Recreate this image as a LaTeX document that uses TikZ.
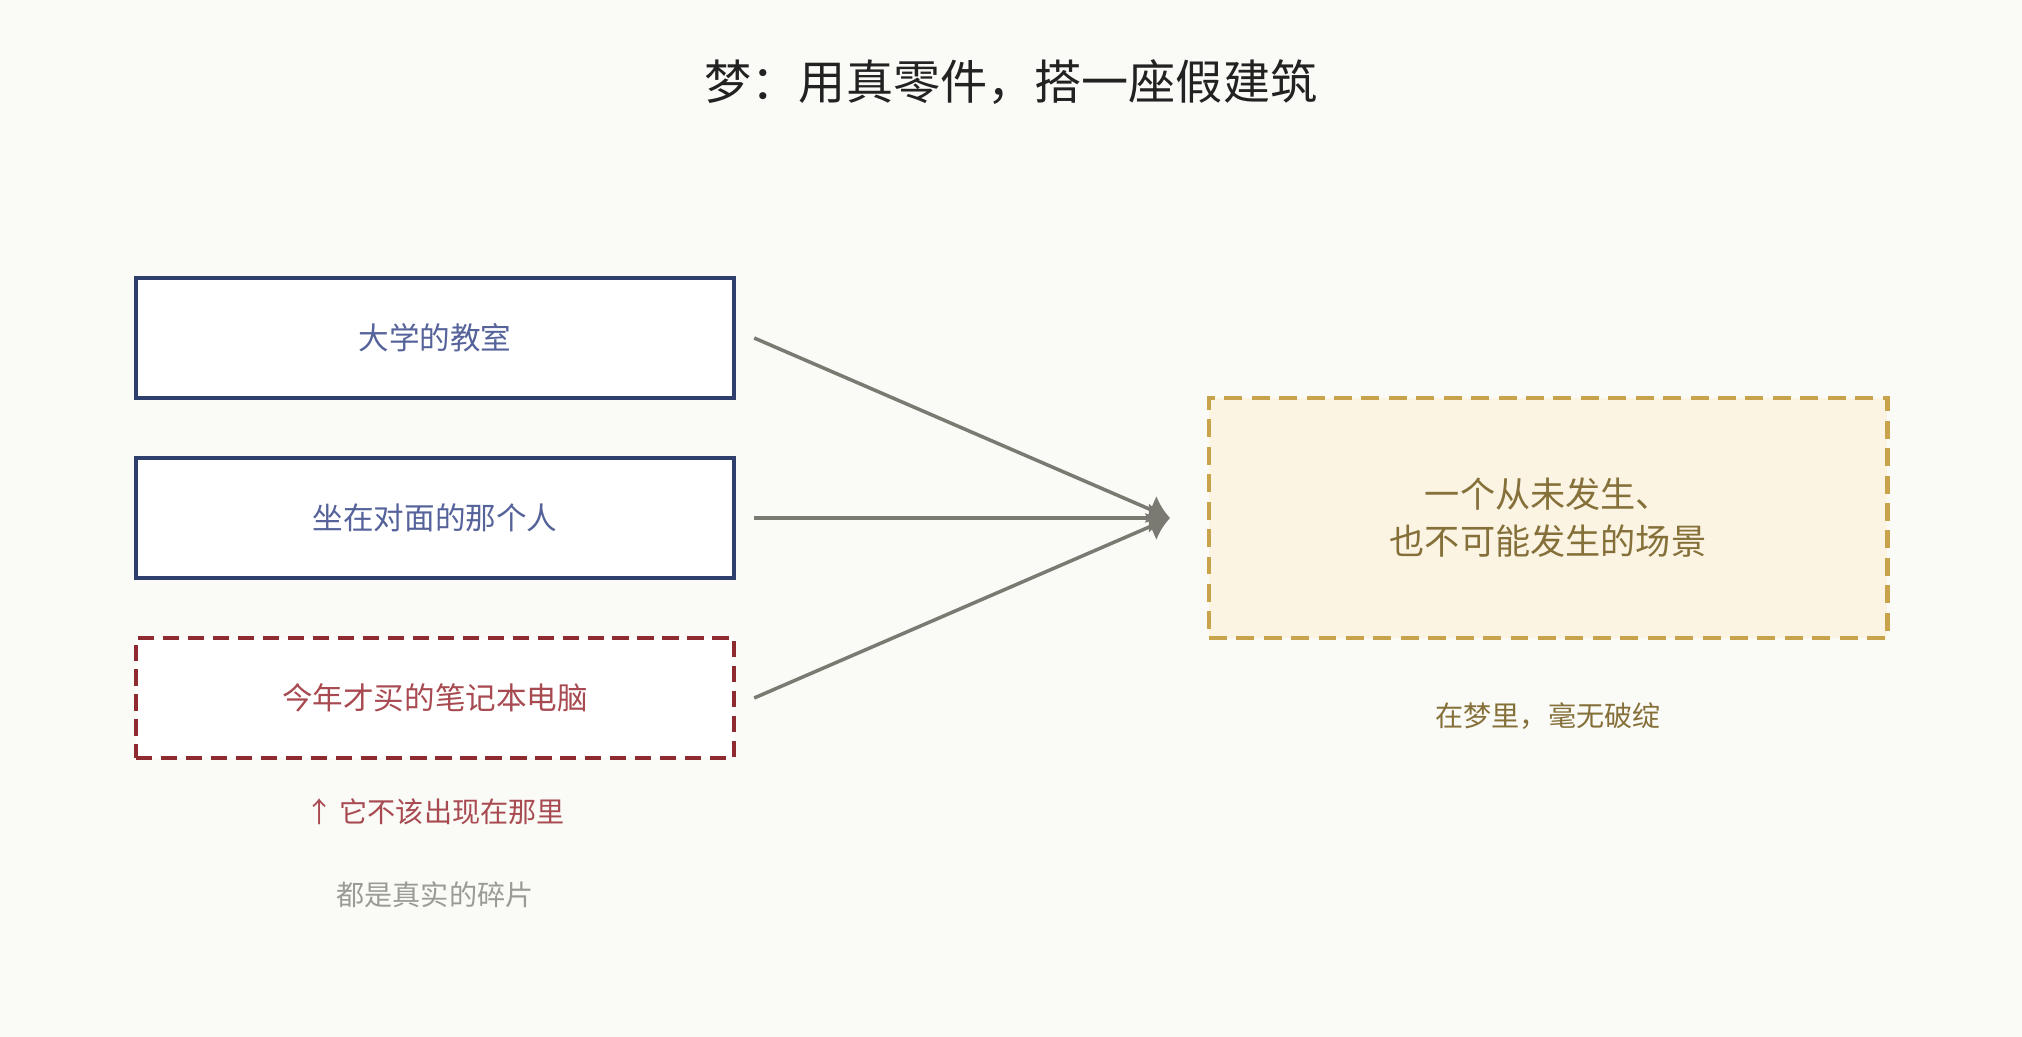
\documentclass[tikz,border=0pt]{standalone}
\usepackage{fontspec}
\setmainfont{Noto Sans CJK SC}
\usepackage{tikz}
\usetikzlibrary{arrows.meta,positioning}
\definecolor{bgpaper}{HTML}{FAFAF6}
\definecolor{realblue}{HTML}{2E3F6E}
\definecolor{realbluetext}{HTML}{55639A}
\definecolor{oddred}{HTML}{8E2B30}
\definecolor{oddredtext}{HTML}{A84A51}
\definecolor{dreamgold}{HTML}{C9A24C}
\definecolor{dreamfill}{HTML}{FCF4E3}
\definecolor{dreamtext}{HTML}{85703A}
\definecolor{linkgray}{HTML}{7A7A72}
\definecolor{notegray}{HTML}{9A9A96}
\definecolor{titleink}{HTML}{222222}

\begin{document}
\begin{tikzpicture}[
x=0.01cm, y=-0.01cm,
RealPart/.style={draw=realblue, fill=white, line width=1.15pt, minimum width=5.98cm, minimum height=1.2cm, text=realbluetext, font=\fontsize{8.7pt}{11pt}\selectfont},
OddPart/.style={RealPart, draw=oddred, text=oddredtext, dash pattern=on 4.6pt off 2.5pt},
DreamBox/.style={draw=dreamgold, fill=dreamfill, line width=1.3pt, dash pattern=on 5.1pt off 2.7pt, minimum width=6.78cm, minimum height=2.4cm, text=dreamtext, align=center, font=\fontsize{10pt}{13.4pt}\selectfont},
Link/.style={draw=linkgray, line width=1pt, -{Latex[length=6pt, width=8.5pt]}},
Note/.style={font=\fontsize{8pt}{10pt}\selectfont}
]
\fill[bgpaper] (0,0) rectangle (2022,1037);
\useasboundingbox (0,0) rectangle (2022,1037);

% title
\node[text=titleink] (title) at (1011,82) {\fontsize{13.4pt}{16pt}\selectfont 梦：用真零件，搭一座假建筑};

% real fragments
\node[RealPart] (room) at (435,338) {大学的教室};
\node[RealPart] (person) at (435,518) {坐在对面的那个人};
\node[OddPart] (laptop) at (435,698) {今年才买的笔记本电脑};

\node[Note, text=oddredtext] (wrong) at (435,812) {↑ 它不该出现在那里};
\node[Note, text=notegray] (fragments) at (435,895) {都是真实的碎片};

% the dream
\node[DreamBox] (scene) at (1548,518) {一个从未发生、\\也不可能发生的场景};
\node[Note, text=dreamtext] (seamless) at (1548,716) {在梦里，毫无破绽};

\coordinate (meet) at (1170,518);

\draw[Link] (room.east) ++(18,0) -- (meet);
\draw[Link] (person.east) ++(18,0) -- (meet);
\draw[Link] (laptop.east) ++(18,0) -- (meet);

\end{tikzpicture}
\end{document}
